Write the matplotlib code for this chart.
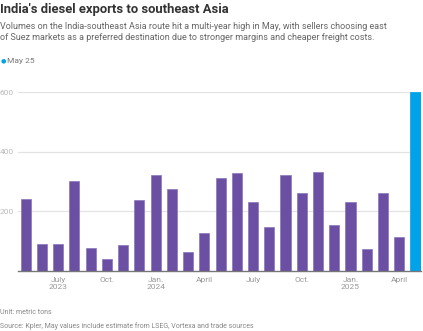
import matplotlib.pyplot as plt
import numpy as np

# Monthly diesel exports India -> southeast Asia, May 2023 .. May 2025 (thousand metric tons)
months = ['May 23', 'Jun 23', 'Jul 23', 'Aug 23', 'Sep 23', 'Oct 23', 'Nov 23', 'Dec 23',
          'Jan 24', 'Feb 24', 'Mar 24', 'Apr 24', 'May 24', 'Jun 24', 'Jul 24', 'Aug 24',
          'Sep 24', 'Oct 24', 'Nov 24', 'Dec 24', 'Jan 25', 'Feb 25', 'Mar 25', 'Apr 25',
          'May 25']
volumes = [242, 90, 90, 302, 78, 39, 88, 240,
           321, 275, 65, 126, 313, 330, 233, 147,
           323, 261, 331, 155, 233, 73, 262, 113,
           600]

tick_idx = [2, 5, 8, 11, 14, 17, 20, 23]
tick_labels = ['July\n2023', 'Oct.', 'Jan.\n2024', 'April', 'July', 'Oct.', 'Jan.\n2025', 'April']
y_ticks = [200, 400, 600]

PURPLE = '#6a4fa3'
BLUE = '#00a3e8'

plt.rcParams['font.family'] = ['Roboto', 'DejaVu Sans']

fig = plt.figure(figsize=(4.23, 3.31), dpi=100)
ax = fig.add_axes([18.3 / 423, 1 - 271 / 331, (420.5 - 18.3) / 423, (271 - 92.3) / 331])

x = np.arange(len(volumes))
colors = [PURPLE] * (len(volumes) - 1) + [BLUE]
edges = ['#8a75bd'] * (len(volumes) - 1) + [BLUE]
ax.bar(x, volumes, width=0.62, color=colors, edgecolor=edges, linewidth=0.5, zorder=3)

ax.set_xlim(-0.45, 24.31)
ax.set_ylim(0, 600)
ax.set_yticks(y_ticks)
ax.grid(axis='y', color='#e3e3e3', linewidth=0.9, zorder=0)
ax.tick_params(axis='y', length=0, labelsize=6, labelcolor='#bbbbbb', pad=0)
for lbl in ax.get_yticklabels():
    lbl.set_horizontalalignment('left')
    lbl.set_x(-18.3 / (420.5 - 18.3))
ax.set_xticks(tick_idx)
ax.set_xticklabels(tick_labels, fontsize=6, color='#999999', linespacing=1.35)
ax.tick_params(axis='x', length=0, pad=4)
for s in ['top', 'right', 'left']:
    ax.spines[s].set_visible(False)
ax.spines['bottom'].set_color('#777777')
ax.spines['bottom'].set_linewidth(1.0)
ax.spines['bottom'].set_zorder(4)

fig.text(0.0, 1 - 9 / 331, "India's diesel exports to southeast Asia", fontsize=9.4,
         fontweight='bold', color='#333333', va='center', ha='left')
fig.text(0.0, 1 - 32 / 331,
         "Volumes on the India-southeast Asia route hit a multi-year high in May, with sellers choosing east\n"
         "of Suez markets as a preferred destination due to stronger margins and cheaper freight costs.",
         fontsize=6.5, color='#666666', va='center', ha='left', linespacing=1.3)
fig.text(3 / 423, 1 - 61 / 331, '\u25cf', fontsize=4.5, color=BLUE, va='center', ha='center')
fig.text(7 / 423, 1 - 61 / 331, months[-1], fontsize=6, color='#777777', va='center', ha='left')
fig.text(0.0, 1 - 313 / 331, 'Unit: metric tons', fontsize=5, color='#888888', va='center', ha='left')
fig.text(0.0, 1 - 326.5 / 331,
         'Source: Kpler, May values include estimate from LSEG, Vortexa and trade sources',
         fontsize=5, color='#888888', va='center', ha='left')

fig.savefig('out.png', dpi=100)
